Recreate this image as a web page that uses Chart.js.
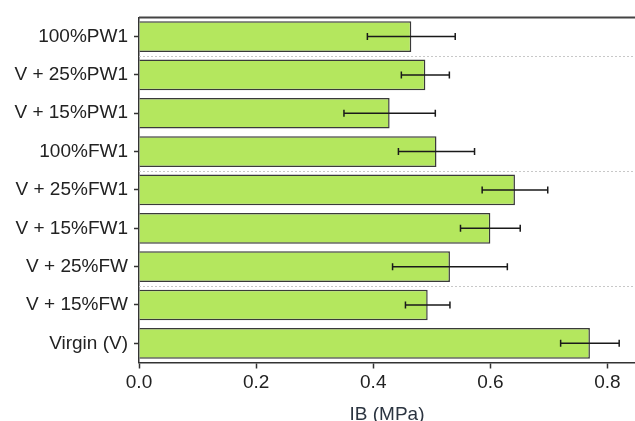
<!DOCTYPE html>
<html>
<head>
<meta charset="utf-8">
<script src="https://cdn.jsdelivr.net/npm/chart.js@4"></script>
<style>
  html, body { margin: 0; padding: 0; background: #fff; }
  #wrap { width: 635px; height: 421px; position: relative; }
</style>
</head>
<body>
<div id="wrap"><canvas id="chart"></canvas></div>
<script>
// Data (top to bottom)
const categories = ['100%PW1', 'V + 25%PW1', 'V + 15%PW1', '100%FW1', 'V + 25%FW1',
    'V + 15%FW1', 'V + 25%FW', 'V + 15%FW', 'Virgin (V)'];
const ibValues = [0.465, 0.489, 0.428, 0.508, 0.642, 0.600, 0.531, 0.493, 0.770];
const ibErrors = [0.075, 0.041, 0.078, 0.065, 0.056, 0.051, 0.098, 0.038, 0.050];
const xTicks = [0, 0.2, 0.4, 0.6, 0.8];
const separatorsAfter = [0, 3, 6];

const FONT = '"Liberation Sans", Arial, sans-serif';

// Error bars, top frame line and dotted group separators
const extrasPlugin = {
    id: 'extras',
    afterDatasetsDraw(chart) {
        const ctx = chart.ctx;
        const xs = chart.scales.x;
        const ys = chart.scales.y;
        const area = chart.chartArea;
        ctx.save();

        // dotted separators
        ctx.strokeStyle = '#c8c8c8';
        ctx.lineWidth = 1;
        ctx.setLineDash([2, 2]);
        separatorsAfter.forEach(i => {
            const y = (ys.getPixelForValue(i) + ys.getPixelForValue(i + 1)) / 2;
            ctx.beginPath();
            ctx.moveTo(area.left, Math.round(y) + 0.5);
            ctx.lineTo(area.right, Math.round(y) + 0.5);
            ctx.stroke();
        });
        ctx.setLineDash([]);

        // error bars
        ctx.strokeStyle = '#1a1a1a';
        ctx.lineWidth = 1.5;
        ibValues.forEach((v, i) => {
            const y = ys.getPixelForValue(i);
            const x1 = xs.getPixelForValue(v - ibErrors[i]);
            const x2 = xs.getPixelForValue(v + ibErrors[i]);
            ctx.beginPath();
            ctx.moveTo(x1, y);
            ctx.lineTo(x2, y);
            ctx.moveTo(x1, y - 3.5);
            ctx.lineTo(x1, y + 3.5);
            ctx.moveTo(x2, y - 3.5);
            ctx.lineTo(x2, y + 3.5);
            ctx.stroke();
        });

        // top frame line
        ctx.strokeStyle = '#444';
        ctx.lineWidth = 2;
        ctx.beginPath();
        ctx.moveTo(area.left, area.top);
        ctx.lineTo(area.right, area.top);
        ctx.stroke();
        ctx.restore();
    }
};

new Chart(document.getElementById('chart'), {
    type: 'bar',
    data: {
        labels: categories,
        datasets: [{
            data: ibValues,
            backgroundColor: '#b4e75e',
            borderColor: '#3a3a3a',
            borderWidth: 1.5,
            barPercentage: 0.8,
            categoryPercentage: 1.0
        }]
    },
    options: {
        indexAxis: 'y',
        responsive: true,
        maintainAspectRatio: false,
        animation: false,
        layout: { padding: { top: 13, right: 0, bottom: 0, left: 0 } },
        plugins: {
            legend: { display: false },
            tooltip: { enabled: false }
        },
        scales: {
            x: {
                min: 0,
                max: 0.847,
                afterBuildTicks(scale) {
                    scale.ticks = xTicks.map(v => ({ value: v }));
                },
                afterFit(scale) { scale.height = 58.5; },
                ticks: {
                    color: '#222',
                    font: { family: FONT, size: 19 },
                    padding: 3,
                    callback: v => v.toFixed(1)
                },
                grid: {
                    drawOnChartArea: false,
                    drawTicks: true,
                    tickLength: 6,
                    tickColor: '#333',
                    tickWidth: 1.5
                },
                border: { color: '#333', width: 1.5 },
                title: {
                    display: true,
                    text: 'IB (MPa)',
                    color: '#2b3440',
                    font: { family: FONT, size: 19 },
                    padding: { top: 0, bottom: -5 }
                }
            },
            y: {
                afterFit(scale) { scale.width = 139; },
                ticks: {
                    color: '#222',
                    font: { family: FONT, size: 19 },
                    padding: 6
                },
                grid: {
                    offset: false,
                    drawOnChartArea: false,
                    drawTicks: true,
                    tickLength: 5,
                    tickColor: '#333',
                    tickWidth: 1.5
                },
                border: { color: '#333', width: 1.5 }
            }
        }
    },
    plugins: [extrasPlugin]
});
</script>
</body>
</html>
